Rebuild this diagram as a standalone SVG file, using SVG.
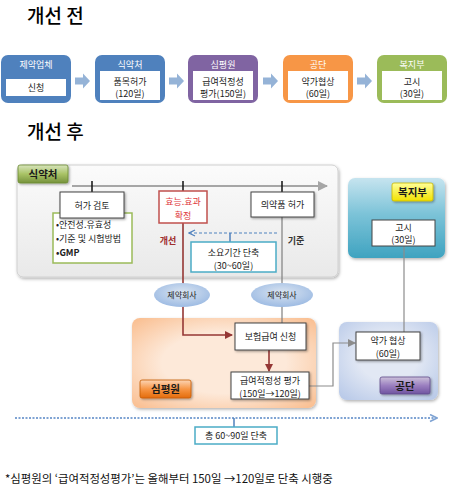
<svg xmlns="http://www.w3.org/2000/svg" width="452" height="493" viewBox="0 0 452 493">
<style>
text{font-family:"Noto Sans CJK KR","Noto Sans",sans-serif;fill:#222}
.t9{font-size:9px}
.hd{font-size:9px;fill:#fff;text-anchor:middle}
.c{text-anchor:middle}
.wb{fill:#fff;stroke:#444;stroke-width:1}
.ib{fill:#fff}
.blk{fill:#95b3d7}
.lbl{font-size:10.5px;font-weight:bold;text-anchor:middle;fill:#1a1a1a}
.ttl{font-size:19px;font-weight:500;fill:#000}
</style>
<defs>
<filter id="sh" x="-20%" y="-20%" width="150%" height="150%"><feDropShadow dx="1.2" dy="1.2" stdDeviation="1" flood-color="#000" flood-opacity="0.35"/></filter>
<filter id="sh2" x="-10%" y="-10%" width="130%" height="130%"><feDropShadow dx="1" dy="1.5" stdDeviation="1.5" flood-color="#000" flood-opacity="0.3"/></filter>
<linearGradient id="gGray" x1="0" y1="0" x2="0" y2="1"><stop offset="0" stop-color="#fbfbfb"/><stop offset="1" stop-color="#e9e9e9"/></linearGradient>
<radialGradient id="gPeach" cx="0.5" cy="0.5" r="0.75"><stop offset="0.45" stop-color="#fde9d9"/><stop offset="1" stop-color="#f9b784"/></radialGradient>
<radialGradient id="gLav" cx="0.5" cy="0.45" r="0.75"><stop offset="0.4" stop-color="#e2e8f4"/><stop offset="1" stop-color="#b4c6e7"/></radialGradient>
<linearGradient id="gTeal" x1="0" y1="0" x2="0" y2="1"><stop offset="0" stop-color="#c6e4ef"/><stop offset="0.45" stop-color="#7cc3d8"/><stop offset="1" stop-color="#3fa3c0"/></linearGradient>
<linearGradient id="gGreen" x1="0" y1="0" x2="0" y2="1"><stop offset="0" stop-color="#d7e4bd"/><stop offset="0.5" stop-color="#a9c366"/><stop offset="1" stop-color="#76923c"/></linearGradient>
<linearGradient id="gOrange" x1="0" y1="0" x2="0" y2="1"><stop offset="0" stop-color="#fcd5b5"/><stop offset="0.5" stop-color="#f79646"/><stop offset="1" stop-color="#e46c0a"/></linearGradient>
<linearGradient id="gPurple" x1="0" y1="0" x2="0" y2="1"><stop offset="0" stop-color="#ccc1da"/><stop offset="0.5" stop-color="#9b7fc0"/><stop offset="1" stop-color="#7054a0"/></linearGradient>
<linearGradient id="gYellow" x1="0" y1="0" x2="0" y2="1"><stop offset="0" stop-color="#ffff99"/><stop offset="1" stop-color="#f2e200"/></linearGradient>
<radialGradient id="gEll" cx="0.5" cy="0.4" r="0.6"><stop offset="0" stop-color="#dbe5f1"/><stop offset="1" stop-color="#9dbbe3"/></radialGradient>
<marker id="aRed" markerWidth="8" markerHeight="8" refX="7" refY="4" orient="auto" markerUnits="userSpaceOnUse"><path d="M0,0 L8,4 L0,8 z" fill="#953735"/></marker>
<marker id="aGray" markerWidth="8" markerHeight="8" refX="7" refY="4" orient="auto" markerUnits="userSpaceOnUse"><path d="M0,0 L8,4 L0,8 z" fill="#8c8c8c"/></marker>
<marker id="aTl" markerWidth="10" markerHeight="10" refX="9" refY="5" orient="auto" markerUnits="userSpaceOnUse"><path d="M0,0 L10,5 L0,10 z" fill="#a6a6a6"/></marker>
<marker id="aBlue" markerWidth="8" markerHeight="8" refX="7" refY="4" orient="auto" markerUnits="userSpaceOnUse"><path d="M1,1 L7,4 L1,7" fill="none" stroke="#4f81bd" stroke-width="1.3"/></marker>
<marker id="aDot" markerWidth="9" markerHeight="9" refX="8" refY="4.5" orient="auto" markerUnits="userSpaceOnUse"><path d="M1,1 L8,4.5 L1,8" fill="none" stroke="#7fa3d3" stroke-width="1.6"/></marker>
</defs>

<rect width="452" height="493" fill="#fff"/>

<!-- titles -->
<text class="ttl" x="27" y="23">개선 전</text>
<text class="ttl" x="27" y="139">개선 후</text>

<!-- top row -->
<g id="before-1">
<rect x="1" y="55" width="70" height="48" rx="7" fill="#4f81bd"/>
<text class="hd" x="36" y="67.5">제약업체</text>
<rect class="ib" x="6" y="79" width="60" height="17"/>
<text class="t9 c" x="36" y="91">신청</text>
</g>
<g id="before-2">
<rect x="95" y="55" width="70" height="48" rx="7" fill="#4f81bd"/>
<text class="hd" x="130" y="67.5">식약처</text>
<rect class="ib" x="100" y="71" width="60" height="29"/>
<text class="t9 c" x="130" y="85">품목허가</text>
<text class="t9 c" x="130" y="97">(120일)</text>
</g>
<g id="before-3">
<rect x="188" y="55" width="70" height="48" rx="7" fill="#8064a2"/>
<text class="hd" x="223" y="67.5">심평원</text>
<rect class="ib" x="193" y="71" width="60" height="29"/>
<text class="t9 c" x="223" y="85">급여적정성</text>
<text class="t9 c" x="223" y="97">평가(150일)</text>
</g>
<g id="before-4">
<rect x="283" y="55" width="70" height="48" rx="7" fill="#f79646"/>
<text class="hd" x="318" y="67.5">공단</text>
<rect class="ib" x="288" y="71" width="60" height="29"/>
<text class="t9 c" x="318" y="85">약가협상</text>
<text class="t9 c" x="318" y="97">(60일)</text>
</g>
<g id="before-5">
<rect x="377" y="55" width="70" height="48" rx="7" fill="#9bbb59"/>
<text class="hd" x="412" y="67.5">복지부</text>
<rect class="ib" x="382" y="71" width="60" height="29"/>
<text class="t9 c" x="412" y="85">고시</text>
<text class="t9 c" x="412" y="97">(30일)</text>
</g>
<g id="before-arrows">
<polygon class="blk" points="75,77.5 83,77.5 83,73.5 90,81 83,88.5 83,84.5 75,84.5"/>
<polygon class="blk" points="169,77.5 177,77.5 177,73.5 184,81 177,88.5 177,84.5 169,84.5"/>
<polygon class="blk" points="263,77.5 271,77.5 271,73.5 278,81 271,88.5 271,84.5 263,84.5"/>
<polygon class="blk" points="357,77.5 365,77.5 365,73.5 372,81 365,88.5 365,84.5 357,84.5"/>
</g>

<!-- panels -->
<g id="panel-mfds">
<rect x="17" y="165" width="321" height="112" rx="6" fill="url(#gGray)" stroke="#d0d0d0" filter="url(#sh2)"/>
</g>
<g id="panel-hira">
<rect x="132" y="318" width="184" height="90" rx="8" fill="url(#gPeach)" filter="url(#sh2)"/>
</g>
<g id="panel-nhis">
<rect x="339" y="322" width="99" height="78" rx="8" fill="url(#gLav)" filter="url(#sh2)"/>
</g>
<g id="panel-mohw">
<rect x="348" y="178" width="97" height="80" rx="7" fill="url(#gTeal)" filter="url(#sh2)"/>
</g>

<!-- connectors -->
<g id="connectors" fill="none">
<line x1="72" y1="186" x2="327" y2="186" stroke="#a6a6a6" stroke-width="2" marker-end="url(#aTl)"/>
<line x1="92" y1="181" x2="92" y2="192" stroke="#111" stroke-width="1.5"/>
<line x1="183" y1="181" x2="183" y2="191" stroke="#111" stroke-width="1.5"/>
<line x1="282" y1="181" x2="282" y2="192" stroke="#111" stroke-width="1.5"/>
<polyline points="183,223 183,335 232,335" stroke="#953735" stroke-width="1.6" marker-end="url(#aRed)"/>
<line x1="282" y1="217" x2="282" y2="323" stroke="#7f7f7f" stroke-width="1.2"/>
<line x1="277" y1="233" x2="189" y2="233" stroke="#4f81bd" stroke-width="1.2" stroke-dasharray="3 2" marker-end="url(#aBlue)"/>
<line x1="230" y1="233" x2="230" y2="242" stroke="#4f81bd" stroke-width="1.5"/>
<line x1="269" y1="350" x2="269" y2="371" stroke="#953735" stroke-width="1.6" marker-end="url(#aRed)"/>
<polyline points="309,386 333,386 333,343 355,343" stroke="#8c8c8c" stroke-width="1.2" marker-end="url(#aGray)"/>
<line x1="404" y1="246" x2="404" y2="332" stroke="#8c8c8c" stroke-width="1.2"/>
<line x1="15" y1="418" x2="437" y2="418" stroke="#7fa3d3" stroke-width="2" stroke-dasharray="2 1.5" marker-end="url(#aDot)"/>
<line x1="234" y1="418" x2="234" y2="427" stroke="#4f81bd" stroke-width="1.5"/>
</g>

<!-- labels -->
<g id="label-mfds">
<rect x="18" y="165" width="50" height="18" rx="2" fill="url(#gGreen)" stroke="#6a8a30" stroke-width="0.8" filter="url(#sh)"/>
<text class="lbl" x="43" y="178">식약처</text>
</g>
<g id="label-hira">
<rect x="140" y="380" width="51" height="18" rx="2" fill="url(#gOrange)" stroke="#c65c00" stroke-width="0.8" filter="url(#sh)"/>
<text class="lbl" x="165.5" y="393">심평원</text>
</g>
<g id="label-nhis">
<rect x="380" y="377" width="50" height="17" rx="2" fill="url(#gPurple)" stroke="#5f4a8b" stroke-width="0.8" filter="url(#sh)"/>
<text class="lbl" x="405" y="389.5">공단</text>
</g>
<g id="label-mohw">
<rect x="392" y="183" width="41" height="18" rx="2" fill="url(#gYellow)" stroke="#c9b800" stroke-width="0.8" filter="url(#sh)"/>
<text class="lbl" x="412.5" y="196">복지부</text>
</g>

<!-- nodes -->
<g id="node-criteria">
<rect x="53" y="213" width="79" height="50" fill="#fff" stroke="#9bbb59" stroke-width="1.5"/>
<text class="t9" x="56" y="228">•안전성.유효성</text>
<text class="t9" x="56" y="242">•기준 및 시험방법</text>
<text class="t9" x="56" y="256" font-weight="bold">•GMP</text>
</g>
<g id="node-review">
<rect class="wb" x="60" y="192" width="64" height="26" filter="url(#sh)"/>
<text class="t9 c" x="92" y="208.5">허가 검토</text>
</g>
<g id="node-efficacy">
<rect x="159" y="191" width="48" height="32" fill="#fff" stroke="#c0504d" stroke-width="1.5"/>
<text class="t9 c" x="183" y="205" style="fill:#e0393e">효능.효과</text>
<text class="t9 c" x="183" y="219" style="fill:#e0393e">확정</text>
</g>
<g id="node-approval">
<rect class="wb" x="251" y="192" width="63" height="25" filter="url(#sh)"/>
<text class="t9 c" x="282.5" y="208">의약품 허가</text>
</g>
<text class="t9 c" x="168" y="244" style="fill:#a0302e;font-weight:bold">개선</text>
<text class="t9 c" x="296" y="244" style="fill:#333;font-weight:bold">기준</text>
<g id="node-shorten">
<rect x="191" y="242" width="85" height="30" fill="#fff" stroke="#4bacc6" stroke-width="1.5"/>
<text class="t9 c" x="233.5" y="256">소요기간 단축</text>
<text class="t9 c" x="233.5" y="269">(30~60일)</text>
</g>
<g id="node-pharma1">
<ellipse cx="182" cy="295" rx="28" ry="12" fill="url(#gEll)"/>
<text class="c" x="182" y="298" style="font-size:8px">제약회사</text>
</g>
<g id="node-pharma2">
<ellipse cx="282" cy="295" rx="31" ry="12" fill="url(#gEll)"/>
<text class="c" x="282" y="298" style="font-size:8px">제약회사</text>
</g>
<g id="node-apply">
<rect class="wb" x="235" y="323" width="71" height="27" filter="url(#sh)"/>
<text class="t9 c" x="270.5" y="340">보험급여 신청</text>
</g>
<g id="node-eval">
<rect class="wb" x="231" y="372" width="78" height="27" filter="url(#sh)"/>
<text class="t9 c" x="270" y="384">급여적정성 평가</text>
<text class="t9 c" x="270" y="396.5">(150일→120일)</text>
</g>
<g id="node-nego">
<rect class="wb" x="356" y="332" width="64" height="28" filter="url(#sh)"/>
<text class="t9 c" x="388" y="344">약가 협상</text>
<text class="t9 c" x="388" y="356.5">(60일)</text>
</g>
<g id="node-notice">
<rect class="wb" x="372" y="220" width="63" height="26"/>
<text class="t9 c" x="403.5" y="231">고시</text>
<text class="t9 c" x="403.5" y="243">(30일)</text>
</g>
<g id="node-total">
<rect x="195" y="427" width="82" height="17" fill="#fff" stroke="#4bacc6" stroke-width="1.5"/>
<text class="t9 c" x="236" y="439">총 60~90일 단축</text>
</g>

<text x="5" y="483" style="font-size:11.4px;fill:#111">*심평원의 ‘급여적정성평가’는 올해부터 150일 →120일로 단축 시행중</text>
</svg>
